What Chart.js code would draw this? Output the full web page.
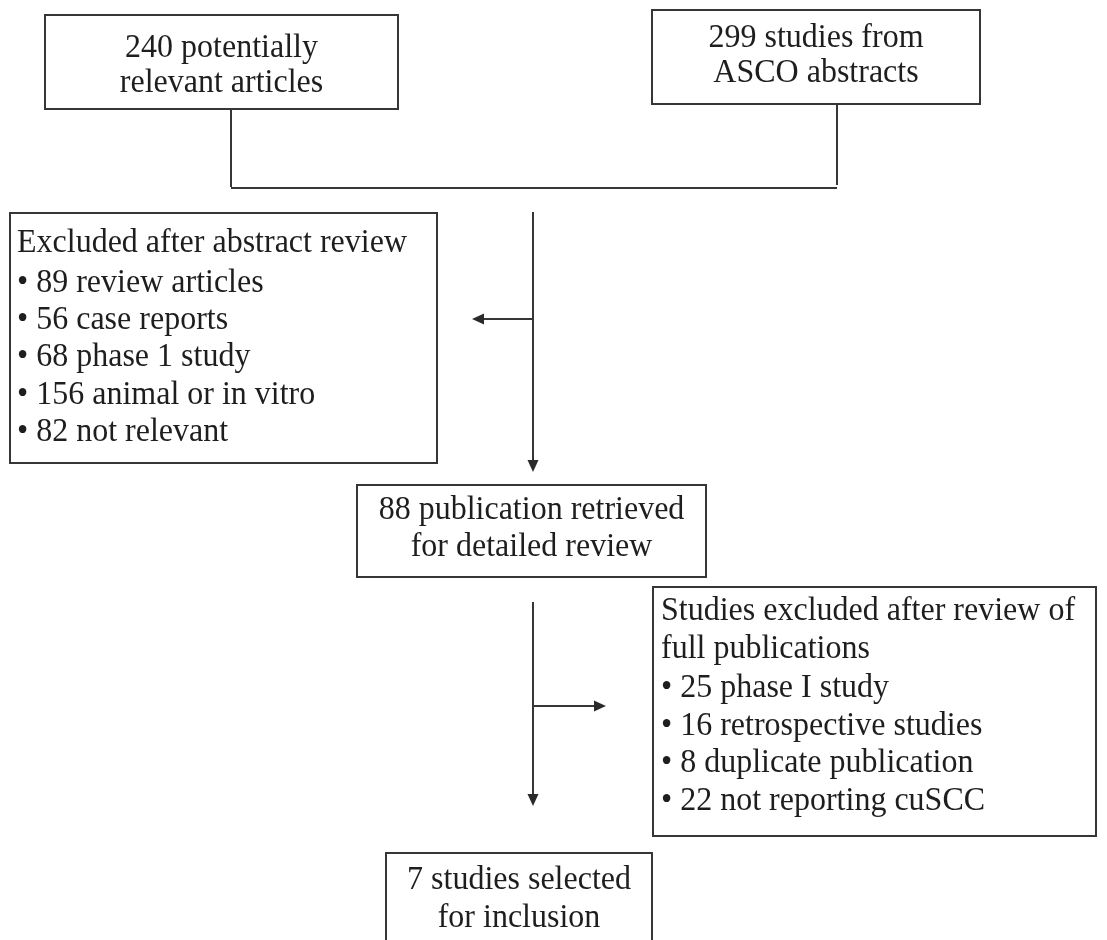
<!DOCTYPE html>
<html>
<head>
<meta charset="utf-8">
<script src="https://cdn.jsdelivr.net/npm/chart.js@4.4.1/dist/chart.umd.min.js"></script>
<style>
html,body{margin:0;padding:0;background:#fff;}
#wrap{width:1107px;height:940px;}
</style>
</head>
<body>
<div id="wrap"><canvas id="c" width="1107" height="940"></canvas></div>
<script>
// ---- data (counts and texts) ----
const sourceCounts = [240, 299];
const sourceLabels = ["potentially\nrelevant articles", "studies from\nASCO abstracts"];
const abstractExclTitle = "Excluded after abstract review";
const abstractExclCounts = [89, 56, 68, 156, 82];
const abstractExclLabels = ["review articles", "case reports", "phase 1 study", "animal or in vitro", "not relevant"];
const retrievedCount = 88;
const retrievedLabel = "publication retrieved\nfor detailed review";
const fullExclTitle = "Studies excluded after review of\nfull publications";
const fullExclCounts = [25, 16, 8, 22];
const fullExclLabels = ["phase I study", "retrospective studies", "duplicate publication", "not reporting cuSCC"];
const includedCount = 7;
const includedLabel = "studies selected\nfor inclusion";

// ---- layout (positions in axis units) ----
const layout = {
  boxes: [
    {x0:45,  x1:398,  y0:15,  y1:109, align:'center', lines:[48,83]},
    {x0:652, x1:980,  y0:10,  y1:104, align:'center', lines:[38,73]},
    {x0:10,  x1:437,  y0:213, y1:463, align:'left', tx:17, lines:[243,283,320,357,395,432]},
    {x0:357, x1:706,  y0:485, y1:577, align:'center', lines:[510,547]},
    {x0:653, x1:1096, y0:587, y1:836, align:'left', tx:661, lines:[611,649,688,726,763,801]},
    {x0:386, x1:652,  y0:853, y1:980, align:'center', lines:[880,918]}
  ],
  segments: [
    {a:[231,109], b:[231,187], arrow:false},
    {a:[837,104], b:[837,185], arrow:false},
    {a:[231,188], b:[837,188], arrow:false},
    {a:[533,212], b:[533,472], arrow:true},
    {a:[533,319], b:[472,319], arrow:true},
    {a:[533,602], b:[533,806], arrow:true},
    {a:[533,706], b:[606,706], arrow:true}
  ]
};

function boxTexts(){
  const t = [];
  t.push((sourceCounts[0] + " " + sourceLabels[0]).split("\n"));
  t.push((sourceCounts[1] + " " + sourceLabels[1]).split("\n"));
  t.push([abstractExclTitle].concat(abstractExclCounts.map((c,i)=>"\u2022 " + c + " " + abstractExclLabels[i])));
  t.push((retrievedCount + " " + retrievedLabel).split("\n"));
  t.push(fullExclTitle.split("\n").concat(fullExclCounts.map((c,i)=>"\u2022 " + c + " " + fullExclLabels[i])));
  t.push((includedCount + " " + includedLabel).split("\n"));
  return t;
}

const flowPlugin = {
  id: 'flow',
  afterDatasetsDraw(chart){
    const ctx = chart.ctx;
    const xs = chart.scales.x, ys = chart.scales.y;
    const X = v => xs.getPixelForValue(v), Y = v => ys.getPixelForValue(v);
    const texts = boxTexts();
    const VS = 1.07; // slight vertical stretch of glyphs
    ctx.save();
    ctx.strokeStyle = '#363636';
    ctx.fillStyle = '#2a2a2a';
    ctx.lineWidth = 2;
    layout.boxes.forEach((b,i)=>{
      ctx.strokeRect(X(b.x0), Y(b.y0), X(b.x1)-X(b.x0), Y(b.y1)-Y(b.y0));
      ctx.save();
      ctx.fillStyle = '#1e1e1e';
      ctx.font = '32px "Liberation Serif", "Times New Roman", serif';
      ctx.textBaseline = 'middle';
      texts[i].forEach((s,j)=>{
        const px = b.align === 'center' ? (X(b.x0)+X(b.x1))/2 : X(b.tx);
        const py = Y(b.lines[j]);
        ctx.save();
        ctx.translate(px, py);
        ctx.scale(1, VS);
        ctx.textAlign = b.align === 'center' ? 'center' : 'left';
        ctx.fillText(s, 0, 0);
        ctx.restore();
      });
      ctx.restore();
    });
    layout.segments.forEach(s=>{
      const ax = X(s.a[0]), ay = Y(s.a[1]), bx = X(s.b[0]), by = Y(s.b[1]);
      const ang = Math.atan2(by-ay, bx-ax);
      const L = 12, W = 5.5;
      const ex = s.arrow ? bx - Math.cos(ang)*L*0.8 : bx;
      const ey = s.arrow ? by - Math.sin(ang)*L*0.8 : by;
      ctx.beginPath(); ctx.moveTo(ax, ay); ctx.lineTo(ex, ey); ctx.stroke();
      if (s.arrow) {
        ctx.beginPath();
        ctx.moveTo(bx, by);
        ctx.lineTo(bx - Math.cos(ang)*L - Math.sin(ang)*W, by - Math.sin(ang)*L + Math.cos(ang)*W);
        ctx.lineTo(bx - Math.cos(ang)*L + Math.sin(ang)*W, by - Math.sin(ang)*L - Math.cos(ang)*W);
        ctx.closePath(); ctx.fill();
      }
    });
    ctx.restore();
  }
};

new Chart(document.getElementById('c'), {
  type: 'scatter',
  data: { datasets: [{ data: [], pointRadius: 0 }] },
  options: {
    responsive: false,
    animation: false,
    devicePixelRatio: 1,
    layout: { padding: 0 },
    plugins: { legend: { display: false }, tooltip: { enabled: false } },
    scales: {
      x: { type: 'linear', min: 0, max: 1107, display: false },
      y: { type: 'linear', min: 0, max: 940, reverse: true, display: false }
    }
  },
  plugins: [flowPlugin]
});
</script>
</body>
</html>
